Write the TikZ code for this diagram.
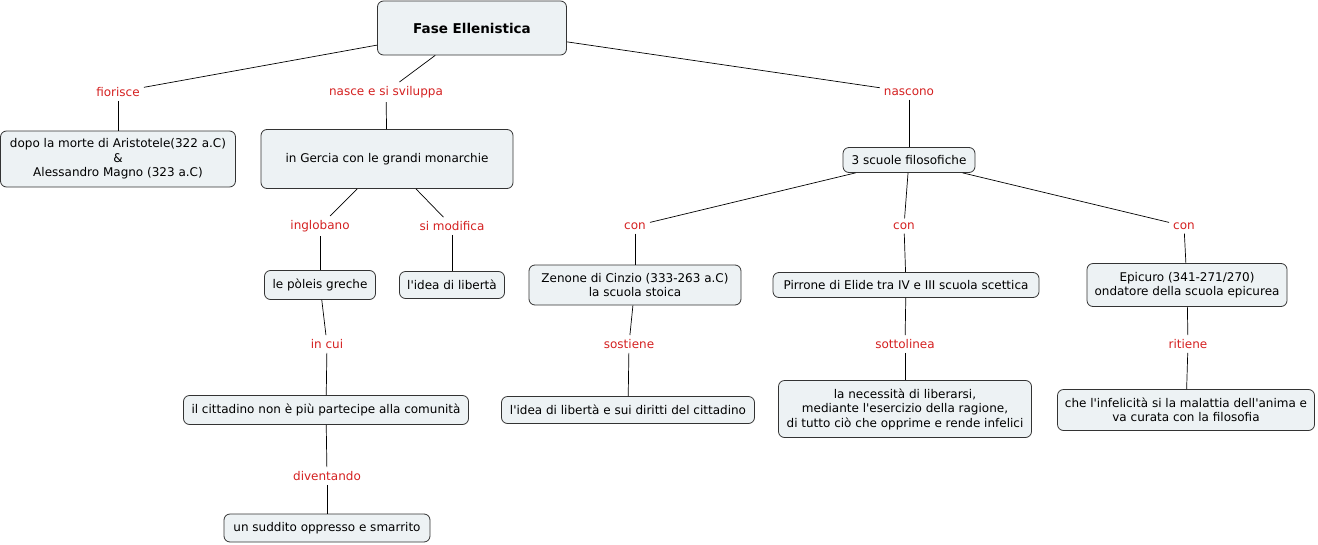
\documentclass[tikz,border=0pt]{standalone}
\usepackage{fontspec}
\setmainfont{DejaVu Sans}[Ligatures=TeXOff]
\definecolor{boxfill}{HTML}{EDF2F4}
\definecolor{boxline}{HTML}{333333}
\definecolor{lblred}{HTML}{D42020}
\begin{document}
\begin{tikzpicture}[x=1pt,y=-1pt,
  concept/.style={draw=boxline, fill=boxfill, rounded corners=6pt, align=center,
    font=\fontsize{12}{14.5}\selectfont, inner sep=2pt, line width=0.8pt},
  linkword/.style={text=lblred, font=\fontsize{12}{14.5}\selectfont, inner sep=4pt},
  conn/.style={draw=black, line width=0.7pt}]
\useasboundingbox (0,0) rectangle (1318,544);
% concepts
\node[concept, minimum width=189pt, minimum height=54pt, font=\fontsize{13.5}{16}\selectfont\bfseries] (fase) at (472,28) {Fase Ellenistica};
\node[concept, minimum width=235pt, minimum height=56pt] (dopo) at (118,159) {dopo la morte di Aristotele(322 a.C)\\\&\\Alessandro Magno (323 a.C)};
\node[concept, minimum width=252pt, minimum height=59pt] (gercia) at (387,159) {in Gercia con le grandi monarchie};
\node[concept, minimum width=132pt, minimum height=25pt] (scuole) at (909,160) {3 scuole filosofiche};
\node[concept, minimum width=111pt, minimum height=29pt] (poleis) at (320,285) {le pòleis greche};
\node[concept, minimum width=105pt, minimum height=27pt] (idea) at (452,285) {l'idea di libertà};
\node[concept, minimum width=212pt, minimum height=40pt] (zenone) at (635,285) {Zenone di Cinzio (333-263 a.C)\\la scuola stoica};
\node[concept, minimum width=266pt, minimum height=25pt] (pirrone) at (906,285) {Pirrone di Elide tra IV e III scuola scettica};
\node[concept, minimum width=200pt, minimum height=43pt] (epicuro) at (1187,285) {Epicuro (341-271/270)\\ondatore della scuola epicurea};
\node[concept, minimum width=285pt, minimum height=29pt] (citt) at (326,410) {il cittadino non è più partecipe alla comunità};
\node[concept, minimum width=253pt, minimum height=27pt] (diritti) at (628,410) {l'idea di libertà e sui diritti del cittadino};
\node[concept, minimum width=253pt, minimum height=57pt] (neces) at (905,409) {la necessità di liberarsi,\\mediante l'esercizio della ragione,\\di tutto ciò che opprime e rende infelici};
\node[concept, minimum width=257pt, minimum height=41pt] (infel) at (1186,410) {che l'infelicità si la malattia dell'anima e\\va curata con la filosofia};
\node[concept, minimum width=206pt, minimum height=28pt] (suddito) at (327,528) {un suddito oppresso e smarrito};
% linking words
\node[linkword] (l1) at (118,92) {fiorisce};
\node[linkword] (l2) at (386,92) {nasce e si sviluppa};
\node[linkword] (l3) at (909,92) {nascono};
\node[linkword] (l4) at (320,226) {inglobano};
\node[linkword] (l5) at (452,226) {si modifica};
\node[linkword] (l6) at (635,226) {con};
\node[linkword] (l7) at (904,226) {con};
\node[linkword] (l8) at (1184,226) {con};
\node[linkword] (l9) at (327,344) {in cui};
\node[linkword] (l10) at (629,344) {sostiene};
\node[linkword] (l11) at (905,344) {sottolinea};
\node[linkword] (l12) at (1188,344) {ritiene};
\node[linkword] (l13) at (327,476) {diventando};
% connectors
\draw[conn] (fase) -- (l1);
\draw[conn] (l1) -- (dopo);
\draw[conn] (fase) -- (l2);
\draw[conn] (l2) -- (gercia);
\draw[conn] (fase) -- (l3);
\draw[conn] (l3) -- (scuole);
\draw[conn] (gercia) -- (l4);
\draw[conn] (l4) -- (poleis);
\draw[conn] (gercia) -- (l5);
\draw[conn] (l5) -- (idea);
\draw[conn] (scuole) -- (l6);
\draw[conn] (l6) -- (zenone);
\draw[conn] (scuole) -- (l7);
\draw[conn] (l7) -- (pirrone);
\draw[conn] (scuole) -- (l8);
\draw[conn] (l8) -- (epicuro);
\draw[conn] (poleis) -- (l9);
\draw[conn] (l9) -- (citt);
\draw[conn] (zenone) -- (l10);
\draw[conn] (l10) -- (diritti);
\draw[conn] (pirrone) -- (l11);
\draw[conn] (l11) -- (neces);
\draw[conn] (epicuro) -- (l12);
\draw[conn] (l12) -- (infel);
\draw[conn] (citt) -- (l13);
\draw[conn] (l13) -- (suddito);
\end{tikzpicture}
\end{document}
